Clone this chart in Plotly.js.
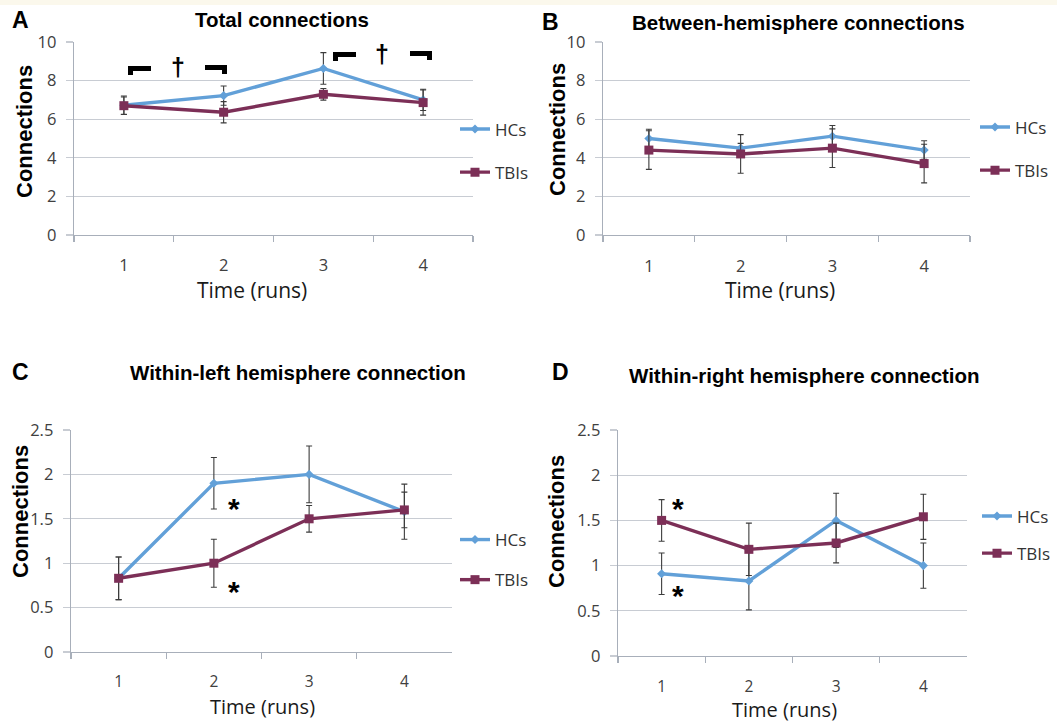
<!DOCTYPE html>
<html><head><meta charset="utf-8">
<script src="https://cdn.plot.ly/plotly-3.0.1.min.js"></script>
<style>html,body{margin:0;padding:0;background:#fff}</style>
</head><body><div id="chart" style="width:1057px;height:722px"></div>
<script>
// ---- data ----
const runs = ['1', '2', '3', '4'];
const totalHC = [6.72, 7.22, 8.63, 7.0];
const totalHCErr = [0.48, 0.5, 0.82, 0.55];
const totalTBI = [6.7, 6.36, 7.29, 6.86];
const totalTBIErr = [0.45, 0.55, 0.3, 0.65];
const betweenHC = [5.0, 4.5, 5.12, 4.4];
const betweenHCErr = [0.48, 0.25, 0.55, 0.48];
const betweenTBI = [4.4, 4.2, 4.5, 3.7];
const betweenTBIErr = [1.0, 1.0, 1.0, 1.0];
const leftHC = [0.83, 1.9, 2.0, 1.58];
const leftHCErr = [0.24, 0.29, 0.32, 0.31];
const leftTBI = [0.83, 1.0, 1.5, 1.6];
const leftTBIErr = [0.24, 0.27, 0.15, 0.2];
const rightHC = [0.91, 0.83, 1.5, 1.0];
const rightHCErr = [0.23, 0.32, 0.3, 0.25];
const rightTBI = [1.5, 1.18, 1.25, 1.54];
const rightTBIErr = [0.23, 0.29, 0.22, 0.25];
const seriesNames = ['HCs', 'TBIs'];
const panelTitles = ['Total connections', 'Between-hemisphere connections',
  'Within-left hemisphere connection', 'Within-right hemisphere connection'];
const panelLetters = ['A', 'B', 'C', 'D'];
const xTitle = 'Time (runs)';
const yTitle = 'Connections';

// ---- style ----
const W = 1057, H = 722;
const px = x => x / W, py = y => 1 - y / H;
const HC_COLOR = '#62a0d8', TBI_COLOR = '#7c2f57';
const GRID = '#c8ccd3', AXIS = '#a8afba', ERR = '#3c3c3c';
const SANS = 'Open Sans, sans-serif';
const TICKFONT = {family: SANS, size: 16.5, color: '#404040'};
const BOLD = 'Liberation Sans, Arial, sans-serif';

function traces(hc, hcErr, tbi, tbiErr, xa, ya, leg) {
  const common = {x: runs, xaxis: xa, yaxis: ya, type: 'scatter', mode: 'lines+markers',
    legend: leg, cliponaxis: false};
  return [
    Object.assign({}, common, {y: hc, name: seriesNames[0], legendgroup: leg + 'h',
      line: {color: HC_COLOR, width: 3.4},
      marker: {symbol: 'diamond', size: 7, color: HC_COLOR},
      error_y: {type: 'data', array: hcErr, visible: true, color: ERR, thickness: 1.1, width: 3}}),
    Object.assign({}, common, {y: tbi, name: seriesNames[1], legendgroup: leg + 't',
      line: {color: TBI_COLOR, width: 3.4},
      marker: {symbol: 'square', size: 9, color: TBI_COLOR},
      error_y: {type: 'data', array: tbiErr, visible: true, color: ERR, thickness: 1.1, width: 3}})
  ];
}

const data = [
  ...traces(totalHC, totalHCErr, totalTBI, totalTBIErr, 'x', 'y', 'legend'),
  ...traces(betweenHC, betweenHCErr, betweenTBI, betweenTBIErr, 'x2', 'y2', 'legend2'),
  ...traces(leftHC, leftHCErr, leftTBI, leftTBIErr, 'x3', 'y3', 'legend3'),
  ...traces(rightHC, rightHCErr, rightTBI, rightTBIErr, 'x4', 'y4', 'legend4')
];

function xAxis(l, r, anchor, standoff, fsize) {
  return {domain: [px(l), px(r)], anchor: anchor, type: 'category', range: [-0.5, 3.5],
    tickson: 'boundaries', ticks: 'outside', ticklen: 6, tickcolor: AXIS, tickwidth: 1.2,
    showline: true, linecolor: AXIS, linewidth: 1.3, showgrid: false, zeroline: false,
    tickfont: Object.assign({}, TICKFONT, {size: fsize}), ticklabelstandoff: standoff, fixedrange: true};
}
function yAxis(t, b, anchor, max, dtick) {
  return {domain: [py(b), py(t)], anchor: anchor, range: [0, max], dtick: dtick,
    ticks: 'outside', ticklen: 7, tickcolor: GRID, tickwidth: 1.2,
    showline: true, linecolor: AXIS, linewidth: 1.3, showgrid: true, gridcolor: GRID, gridwidth: 1.2,
    zeroline: false, tickfont: TICKFONT, ticklabelstandoff: 6, fixedrange: true};
}
function legendAt(x, yMid, gap) {
  return {x: px(x), y: py(yMid), xanchor: 'left', yanchor: 'middle', bgcolor: 'rgba(0,0,0,0)',
    font: {family: SANS, size: 17, color: '#333'}, traceorder: 'grouped',
    tracegroupgap: gap, itemwidth: 30};
}

const annotations = [];
function note(x, y, text, font, extra) {
  annotations.push(Object.assign({xref: 'paper', yref: 'paper', x: px(x), y: py(y), text: text,
    showarrow: false, xanchor: 'center', yanchor: 'middle', font: font}, extra || {}));
}
const titlePos = [[282, 20], [798, 22], [298, 372], [804, 375]];
const letterPos = [[20, 20], [550, 22], [20, 372], [560, 372]];
const xTitlePos = [[252, 290], [780, 290], [262, 706], [784, 709]];
const xTitleSize = [21, 21, 20, 20];
const yTitlePos = [[24, 132], [557, 130], [20, 512], [556, 522]];
for (let i = 0; i < 4; i++) {
  note(titlePos[i][0], titlePos[i][1], '<b>' + panelTitles[i] + '</b>', {family: BOLD, size: 20.5, color: '#000'});
  note(letterPos[i][0], letterPos[i][1], '<b>' + panelLetters[i] + '</b>', {family: BOLD, size: 23, color: '#000'});
  note(xTitlePos[i][0], xTitlePos[i][1], xTitle, {family: SANS, size: xTitleSize[i], color: '#1a1a1a'});
  note(yTitlePos[i][0], yTitlePos[i][1], '<b>' + yTitle + '</b>', {family: BOLD, size: 22, color: '#000'}, {textangle: -90});
}
// daggers in panel A
[[178, 67], [382, 54]].forEach(p => note(p[0], p[1], '<b>†</b>', {family: BOLD, size: 25, color: '#000'}));
// asterisks in panels C and D
[[234, 508], [234, 591], [678, 508], [678, 595]].forEach(p =>
  note(p[0], p[1], '<b>*</b>', {family: BOLD, size: 30, color: '#000'}));

// bracket glyphs in panel A (significance markers)
function poly(pts) {
  return 'M' + pts.map(p => px(p[0]).toFixed(5) + ',' + py(p[1]).toFixed(5)).join(' L') + ' Z';
}
function leftBracket(x0, x1, y0) {
  return poly([[x0, y0], [x1, y0], [x1, y0 + 5], [x0 + 5, y0 + 5], [x0 + 5, y0 + 9], [x0, y0 + 9]]);
}
function rightBracket(x0, x1, y0) {
  return poly([[x0, y0], [x1, y0], [x1, y0 + 9], [x1 - 5, y0 + 9], [x1 - 5, y0 + 5], [x0, y0 + 5]]);
}
const shapes = [
  {type: 'rect', xref: 'paper', yref: 'paper', x0: 0, x1: 1, y0: py(5), y1: 1,
    fillcolor: '#fbf8ec', line: {width: 0}, layer: 'below'}
];
[leftBracket(128, 151, 66), rightBracket(205, 227, 65), leftBracket(333, 356, 52), rightBracket(410, 432, 51)]
  .forEach(path => shapes.push({type: 'path', xref: 'paper', yref: 'paper', path: path,
    fillcolor: '#000', line: {width: 0}}));

const layout = {
  width: W, height: H, margin: {l: 0, r: 0, t: 0, b: 0},
  paper_bgcolor: '#fff', plot_bgcolor: '#fff',
  xaxis: xAxis(74, 473, 'y', 15, 16.5), yaxis: yAxis(42, 235, 'x', 10, 2),
  xaxis2: xAxis(603, 970, 'y2', 16, 16.5), yaxis2: yAxis(42, 235, 'x2', 10, 2),
  xaxis3: xAxis(71, 452, 'y3', 15, 15.5), yaxis3: yAxis(430, 652, 'x3', 2.5, 0.5),
  xaxis4: xAxis(618, 967, 'y4', 16, 15.5), yaxis4: yAxis(430, 656, 'x4', 2.5, 0.5),
  legend: legendAt(455, 151, 18),
  legend2: legendAt(975, 149, 18),
  legend3: legendAt(455, 560, 15),
  legend4: legendAt(977, 535, 12),
  annotations: annotations, shapes: shapes, showlegend: true
};

Plotly.newPlot('chart', data, layout, {displayModeBar: false, staticPlot: true});
</script></body></html>
